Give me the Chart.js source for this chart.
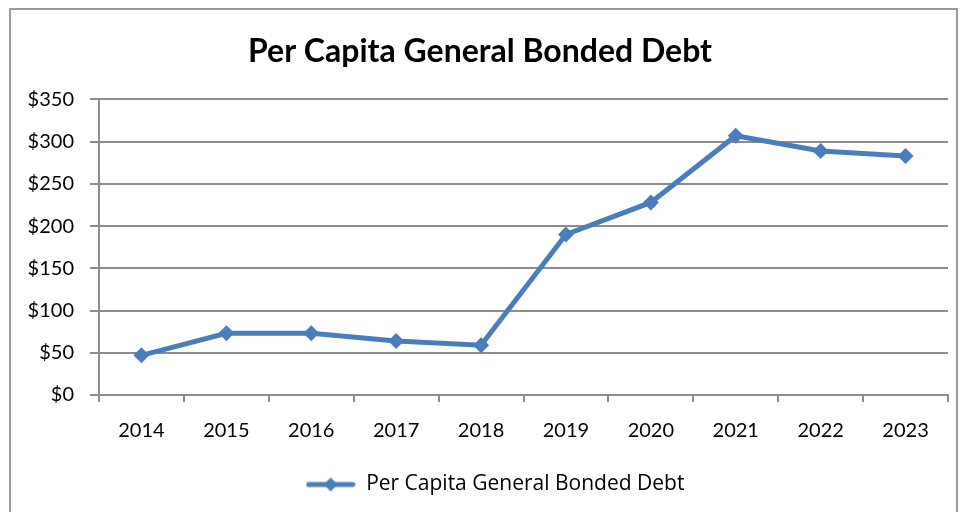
<!DOCTYPE html>
<html>
<head>
<meta charset="utf-8">
<script src="https://cdn.jsdelivr.net/npm/chart.js@4.4.1/dist/chart.umd.min.js"></script>
<style>
  html, body { margin: 0; padding: 0; background: #fff; }
  #wrap { width: 961px; height: 512px; position: relative; }
</style>
</head>
<body>
<div id="wrap"><canvas id="c" width="961" height="512"></canvas></div>
<script>
// Per capita general bonded debt, in dollars, by year
const years = ['2014', '2015', '2016', '2017', '2018', '2019', '2020', '2021', '2022', '2023'];
const debtPerCapita = [47, 73, 73, 64, 59, 190, 228, 307, 289, 283];
const yTickValues = [0, 50, 100, 150, 200, 250, 300, 350];

const BLUE = '#4a7ebb';
const GRID = '#8c8c8c';
const FONT = 'Lato, "Open Sans", sans-serif';

// Legend swatch: a short line with a diamond in the middle
function legendSwatch() {
  const c = document.createElement('canvas');
  c.width = 50; c.height = 16;
  const g = c.getContext('2d');
  g.strokeStyle = BLUE; g.lineWidth = 5; g.lineCap = 'round';
  g.beginPath(); g.moveTo(3, 8); g.lineTo(47, 8); g.stroke();
  g.fillStyle = BLUE;
  g.beginPath(); g.moveTo(25, 1); g.lineTo(32, 8); g.lineTo(25, 15); g.lineTo(18, 8); g.closePath(); g.fill();
  return c;
}

// Outer frame around the chart
const framePlugin = {
  id: 'frame',
  beforeDraw(chart) {
    const ctx = chart.ctx;
    ctx.save();
    ctx.strokeStyle = '#9a9a9a';
    ctx.lineWidth = 2;
    ctx.beginPath();
    ctx.moveTo(10, 520); ctx.lineTo(10, 9); ctx.lineTo(957, 9); ctx.lineTo(957, 520);
    ctx.stroke();
    ctx.restore();
  }
};

// Legend sits centred under the plot area rather than the whole canvas
const legendShift = {
  id: 'legendShift',
  afterLayout(chart) {
    if (chart.legend) {
      chart.legend.left += 15;
      chart.legend.right += 15;
    }
  }
};

const swatch = legendSwatch();

new Chart(document.getElementById('c'), {
  type: 'line',
  data: {
    labels: years,
    datasets: [{
      label: 'Per Capita General Bonded Debt',
      data: debtPerCapita,
      borderColor: BLUE,
      backgroundColor: BLUE,
      borderWidth: 5,
      pointStyle: 'rectRot',
      pointRadius: 8,
      pointHoverRadius: 8,
      pointBorderWidth: 0,
      tension: 0
    }]
  },
  options: {
    responsive: false,
    animation: false,
    events: [],
    layout: { padding: { left: 12, right: 13, top: 14, bottom: 7 } },
    plugins: {
      title: {
        display: true,
        text: 'Per Capita General Bonded Debt',
        color: '#000',
        font: { family: FONT, size: 32, weight: 'bold' },
        padding: { top: 18, bottom: 29 }
      },
      legend: {
        position: 'bottom',
        labels: {
          usePointStyle: true,
          pointStyleWidth: 50,
          color: '#000',
          font: { family: '"Open Sans", sans-serif', size: 21 },
          generateLabels: (chart) => [{
            text: chart.data.datasets[0].label,
            pointStyle: swatch,
            fillStyle: BLUE,
            strokeStyle: BLUE,
            lineWidth: 0,
            datasetIndex: 0
          }]
        }
      },
      tooltip: { enabled: false }
    },
    scales: {
      x: {
        offset: true,
        afterFit: (scale) => { scale.height += 4; },
        grid: {
          offset: true,
          drawOnChartArea: false,
          drawTicks: true,
          tickLength: 7,
          color: GRID,
          lineWidth: 2
        },
        border: { display: true, color: GRID, width: 2 },
        ticks: { color: '#000', font: { family: FONT, size: 20 }, padding: 17 }
      },
      y: {
        min: 0,
        max: 350,
        afterBuildTicks: (scale) => { scale.ticks = yTickValues.map(v => ({ value: v })); },
        afterFit: (scale) => { scale.width = 87; },
        grid: { color: GRID, lineWidth: 2, tickLength: 9 },
        border: { display: true, color: GRID, width: 2 },
        ticks: {
          color: '#000',
          font: { family: FONT, size: 20 },
          padding: 16,
          callback: (v) => '$' + v
        }
      }
    }
  },
  plugins: [framePlugin, legendShift]
});
</script>
</body>
</html>
